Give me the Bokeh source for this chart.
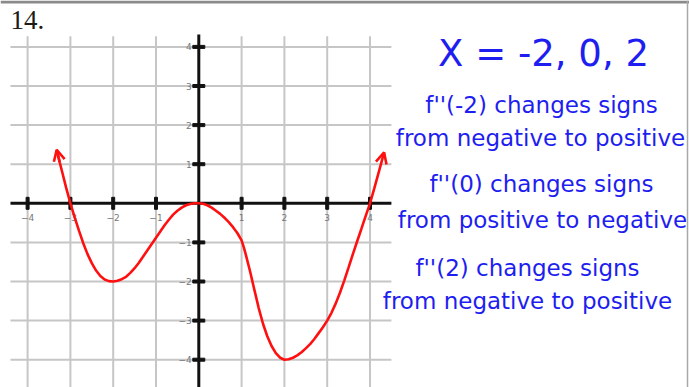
from bokeh.plotting import figure
from bokeh.models import Range1d, Label, Arrow, OpenHead, Span
from bokeh.core.properties import value
from bokeh.embed import file_html
from bokeh.resources import INLINE

# ---- data -------------------------------------------------------------
ticks = [-4, -3, -2, -1, 1, 2, 3, 4]
tick_labels = ["\u22124", "\u22123", "\u22122", "\u22121", "1", "2", "3", "4"]

curve_x = [-3.32, -3.25, -3.18, -3.10, -3.00, -2.90, -2.80, -2.70, -2.60, -2.50,
           -2.40, -2.30, -2.20, -2.10, -2.00, -1.90, -1.80, -1.70, -1.60, -1.50,
           -1.40, -1.30, -1.20, -1.10, -1.00, -0.90, -0.80, -0.70, -0.60, -0.50,
           -0.40, -0.30, -0.20, -0.10, 0.00, 0.10, 0.20, 0.30, 0.40, 0.50,
           0.60, 0.70, 0.80, 0.90, 1.00, 1.05, 1.10, 1.20, 1.30, 1.40,
           1.50, 1.60, 1.70, 1.80, 1.90, 2.00, 2.10, 2.20, 2.30, 2.40,
           2.50, 2.60, 2.70, 2.80, 2.90, 3.00, 3.10, 3.20, 3.30, 3.40,
           3.50, 3.60, 3.70, 3.80, 3.90, 4.00, 4.10, 4.20, 4.30, 4.33]
curve_y = [1.37, 1.05, 0.75, 0.40, 0.00, -0.36, -0.70, -1.02, -1.30, -1.53,
           -1.72, -1.86, -1.95, -1.99, -2.00, -1.98, -1.94, -1.88, -1.78, -1.66,
           -1.52, -1.36, -1.20, -1.04, -0.88, -0.72, -0.56, -0.42, -0.29, -0.19,
           -0.11, -0.05, -0.02, 0.00, 0.00, -0.01, -0.05, -0.11, -0.19, -0.27,
           -0.37, -0.48, -0.61, -0.76, -0.95, -1.12, -1.32, -1.75, -2.22, -2.68,
           -3.08, -3.40, -3.65, -3.83, -3.95, -4.00, -3.99, -3.95, -3.89, -3.81,
           -3.71, -3.60, -3.47, -3.32, -3.17, -3.00, -2.80, -2.56, -2.28, -1.97,
           -1.64, -1.30, -0.97, -0.65, -0.32, 0.00, 0.38, 0.78, 1.18, 1.30]

heading = "X = -2, 0, 2"
notes = [
    "f''(-2) changes signs",
    "from negative to positive",
    "f''(0) changes signs",
    "from positive to negative",
    "f''(2) changes signs",
    "from negative to positive",
]

# ---- page geometry ------------------------------------------------------
W, H = 689, 387
X0_PX, Y0_PX = 198.3, 202.8      # screen position of the origin
SX, SY = 42.8, 39.1              # pixels per unit

x_start = -X0_PX / SX
x_end = (W - X0_PX) / SX
y_end = Y0_PX / SY
y_start = (Y0_PX - H) / SY

p = figure(width=W, height=H, output_backend="svg", toolbar_location=None,
           x_range=Range1d(x_start, x_end), y_range=Range1d(y_start, y_end),
           min_border=0)
p.axis.visible = False
p.grid.visible = False
p.outline_line_color = None
p.background_fill_color = "white"
p.border_fill_color = "white"

GRID_LEFT, GRID_RIGHT = -4.4, 4.5
GRID_TOP = 4.27

# grid
p.segment(x0=ticks, x1=ticks, y0=[y_start] * len(ticks), y1=[GRID_TOP] * len(ticks),
          line_color="#c6c6c6", line_width=2)
p.segment(x0=[GRID_LEFT] * len(ticks), x1=[GRID_RIGHT] * len(ticks), y0=ticks, y1=ticks,
          line_color="#c6c6c6", line_width=2)

# axes
p.segment(x0=[GRID_LEFT], x1=[GRID_RIGHT], y0=[0], y1=[0], line_color="#111111", line_width=3)
p.segment(x0=[0], x1=[0], y0=[y_start], y1=[GRID_TOP + 0.05], line_color="#111111", line_width=3)

# tick marks
p.rect(x=ticks, y=[0] * len(ticks), width=3, height=12,
       width_units="screen", height_units="screen", color="#111111")
p.rect(x=[0] * len(ticks), y=ticks, width=12, height=3,
       width_units="screen", height_units="screen", color="#111111")

# tick labels
p.text(x=ticks, y=[0] * len(ticks), text=tick_labels, y_offset=14,
       text_align="center", text_baseline="middle", text_font=value("DejaVu Sans"),
       text_font_size="9px", text_color="#777777")
p.text(x=[0] * len(ticks), y=ticks, text=tick_labels, x_offset=-7,
       text_align="right", text_baseline="middle", text_font=value("DejaVu Sans"),
       text_font_size="9px", text_color="#777777")

# the function
p.line(curve_x, curve_y, line_color="#ff1010", line_width=2.6)
for (xs, ys, xe, ye) in [(curve_x[1], curve_y[1], curve_x[0], curve_y[0]),
                         (curve_x[-2], curve_y[-2], curve_x[-1], curve_y[-1])]:
    p.add_layout(Arrow(end=OpenHead(size=11, line_color="#ff1010", line_width=2.6),
                       x_start=xs, y_start=ys, x_end=xe, y_end=ye,
                       line_color="#ff1010", line_width=2.6))

# problem number
p.add_layout(Label(x=10, y=H - 10, x_units="screen", y_units="screen", text="14.",
                   text_font="Liberation Serif", text_font_size="27px",
                   text_color="#1e1a16", text_baseline="top"))

# notes on the right
BLUE = "#1e1ef0"
p.add_layout(Label(x=543, y=H - 53, x_units="screen", y_units="screen", text=heading,
                   text_font="DejaVu Sans", text_font_size="37px", text_color=BLUE,
                   text_align="center", text_baseline="middle"))
note_pos = [(541, 104), (540, 137), (541, 183), (542, 219), (527, 267), (527, 300)]
for t, (cx, cy) in zip(notes, note_pos):
    p.add_layout(Label(x=cx, y=H - cy, x_units="screen", y_units="screen", text=t,
                       text_font="DejaVu Sans", text_font_size="23px", text_color=BLUE,
                       text_align="center", text_baseline="middle"))

# page edges
p.add_layout(Span(location=y_end - 1.5 / SY, dimension="width",
                  line_color="#8a8a8a", line_width=3))
p.add_layout(Span(location=x_start + 687 / SX, dimension="height",
                  line_color="#a8a8a8", line_width=1.5))

open("out.html", "w").write(file_html(p, INLINE))
